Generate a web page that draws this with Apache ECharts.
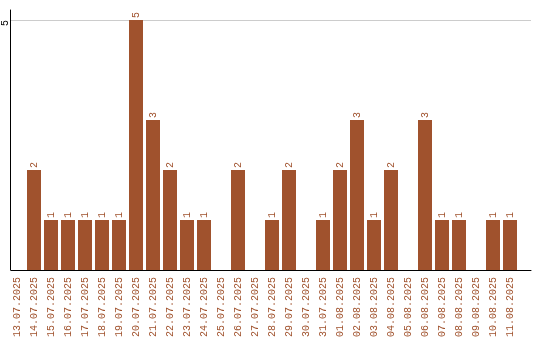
<!DOCTYPE html>
<html><head><meta charset="utf-8">
<script src="https://cdn.jsdelivr.net/npm/echarts@6/dist/echarts.min.js"></script>
<style>html,body{margin:0;padding:0;background:#fff}#c{width:540px;height:340px}</style>
</head><body><div id="c"></div>
<script>
var categories = ['13.07.2025','14.07.2025','15.07.2025','16.07.2025','17.07.2025','18.07.2025','19.07.2025','20.07.2025','21.07.2025','22.07.2025','23.07.2025','24.07.2025','25.07.2025','26.07.2025','27.07.2025','28.07.2025','29.07.2025','30.07.2025','31.07.2025','01.08.2025','02.08.2025','03.08.2025','04.08.2025','05.08.2025','06.08.2025','07.08.2025','08.08.2025','09.08.2025','10.08.2025','11.08.2025'];
var values = [0,2,1,1,1,1,1,5,3,2,1,1,0,2,0,1,2,0,1,2,3,1,2,0,3,1,1,0,1,1];
var yMax = 5;

var color = '#a0522d';
var font = 'Liberation Mono';
var chart = echarts.init(document.getElementById('c'), null, {renderer:'canvas'});
chart.setOption({
  animation: false,
  grid: [
    {left: 8.5, top: 20, width: 510, height: 250},
    {left: 10, top: 20, width: 521, height: 250},
    {left: 10, top: 10, width: 521, height: 260}
  ],
  xAxis: [
    {type:'category', gridIndex:0, data: categories, axisLine:{show:false}, axisTick:{show:false},
     axisLabel:{rotate:90, interval:0, color: color, fontFamily: font, fontSize: 10, margin: 7}},
    {type:'value', gridIndex:1, min:0, max:1, axisLine:{show:true, lineStyle:{color:'#000', width:1}},
     axisTick:{show:false}, axisLabel:{show:false}, splitLine:{show:false}},
    {type:'value', gridIndex:2, min:0, max:1, show:false}
  ],
  yAxis: [
    {type:'value', gridIndex:0, min:0, max:yMax, show:false},
    {type:'value', gridIndex:1, min:0, max:yMax, interval:5, axisLine:{show:false}, axisTick:{show:false},
     splitLine:{show:true, lineStyle:{color:'#cccccc', width:1}},
     axisLabel:{rotate:90, showMinLabel:false, color:'#000', fontFamily: font, fontSize:10, margin:6,
       align:'right', verticalAlign:'middle'}},
    {type:'value', gridIndex:2, min:0, max:5.2, axisLine:{show:true, lineStyle:{color:'#000', width:1}},
     axisTick:{show:false}, axisLabel:{show:false}, splitLine:{show:false}}
  ],
  series: [{
    type:'bar', xAxisIndex:0, yAxisIndex:0,
    data: values.map(function(v){ return v === 0 ? null : v; }),
    barWidth: 14,
    itemStyle:{color: color},
    label:{show:true, position:'top', rotate:90, align:'left', verticalAlign:'middle', distance:2,
      color: color, fontFamily: font, fontSize: 10}
  }]
});
</script></body></html>
